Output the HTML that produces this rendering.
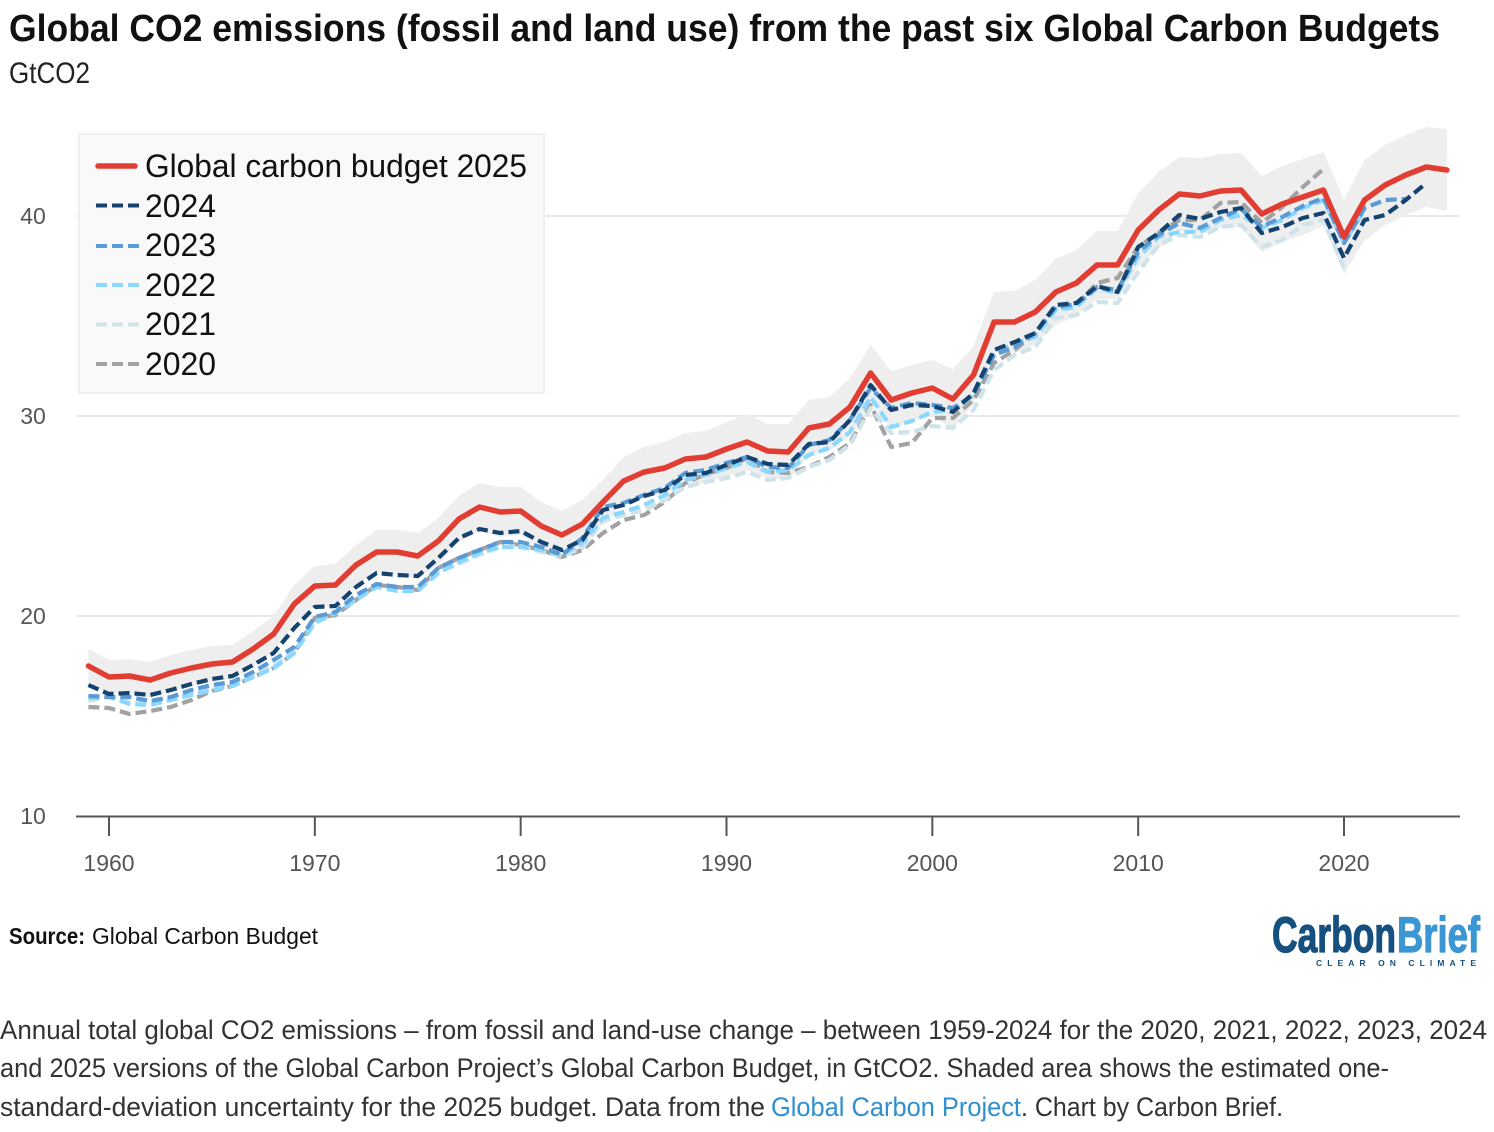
<!DOCTYPE html>
<html lang="en">
<head>
<meta charset="utf-8">
<title>Global CO2 emissions (fossil and land use) from the past six Global Carbon Budgets</title>
<style>
html,body{margin:0;padding:0;background:#fff;width:1494px;height:1132px;overflow:hidden}
svg{display:block}
text{font-family:"Liberation Sans",sans-serif}
</style>
</head>
<body>
<svg id="chart" width="1494" height="1132" viewBox="0 0 1494 1132" xmlns="http://www.w3.org/2000/svg">
  <text x="9" y="41" font-size="38" font-weight="700" fill="#111" textLength="1431" lengthAdjust="spacingAndGlyphs">Global CO2 emissions (fossil and land use) from the past six Global Carbon Budgets</text>
  <text x="9" y="83" font-size="30" fill="#222" textLength="81" lengthAdjust="spacingAndGlyphs">GtCO2</text>

  <g id="grid"></g>
  <g id="band"></g>
  <g id="series"></g>
  <g id="axes"></g>

  <g>
    <rect x="79" y="134" width="465" height="259" fill="#f9f9f9" stroke="#efefef" stroke-width="2"/>
    <g>
      <line x1="98" y1="166" x2="135" y2="166" stroke="#e23d32" stroke-width="5.5" stroke-linecap="round"/>
      <text x="145" y="177" font-size="32" fill="#111" textLength="382" lengthAdjust="spacingAndGlyphs">Global carbon budget 2025</text>
    </g>
    <g>
      <line x1="96" y1="205.500" x2="140" y2="205.500" stroke="#15436f" stroke-width="4" stroke-dasharray="11 5"/>
      <text x="145" y="217" font-size="32" fill="#111" textLength="71" lengthAdjust="spacingAndGlyphs">2024</text>
    </g>
    <g>
      <line x1="96" y1="246" x2="140" y2="246" stroke="#5b9bd5" stroke-width="4" stroke-dasharray="11 5"/>
      <text x="145" y="256" font-size="32" fill="#111" textLength="71" lengthAdjust="spacingAndGlyphs">2023</text>
    </g>
    <g>
      <line x1="96" y1="285" x2="140" y2="285" stroke="#8ad8ff" stroke-width="4" stroke-dasharray="11 5"/>
      <text x="145" y="296" font-size="32" fill="#111" textLength="71" lengthAdjust="spacingAndGlyphs">2022</text>
    </g>
    <g>
      <line x1="96" y1="324.500" x2="140" y2="324.500" stroke="#cfe3ea" stroke-width="4" stroke-dasharray="11 5"/>
      <text x="145" y="335" font-size="32" fill="#111" textLength="71" lengthAdjust="spacingAndGlyphs">2021</text>
    </g>
    <g>
      <line x1="96" y1="364" x2="140" y2="364" stroke="#a2a2a2" stroke-width="4" stroke-dasharray="11 5"/>
      <text x="145" y="375" font-size="32" fill="#111" textLength="71" lengthAdjust="spacingAndGlyphs">2020</text>
    </g>
  </g>

  <text y="944" font-size="23" fill="#111"><tspan x="9" font-weight="700" textLength="76" lengthAdjust="spacingAndGlyphs">Source:</tspan></text>
  <text x="92" y="944" font-size="23" fill="#111" textLength="226" lengthAdjust="spacingAndGlyphs">Global Carbon Budget</text>

  <g>
    <text x="1272" y="952" font-size="50" font-weight="700" fill="#15507f" stroke="#15507f" stroke-width="1.200" textLength="124" lengthAdjust="spacingAndGlyphs">Carbon</text>
    <text x="1397" y="952" font-size="50" font-weight="700" fill="#3b97d3" stroke="#3b97d3" stroke-width="1.200" textLength="83" lengthAdjust="spacingAndGlyphs">Brief</text>
    <text x="1316" y="966" font-size="8.500" font-weight="700" fill="#15507f" textLength="160">CLEAR ON CLIMATE</text>
  </g>

  <g font-size="27" fill="#333">
    <text x="0" y="1039" textLength="1487" lengthAdjust="spacingAndGlyphs">Annual total global CO2 emissions – from fossil and land-use change – between 1959-2024 for the 2020, 2021, 2022, 2023, 2024</text>
    <text x="0" y="1077" textLength="1389" lengthAdjust="spacingAndGlyphs">and 2025 versions of the Global Carbon Project’s Global Carbon Budget, in GtCO2. Shaded area shows the estimated one-</text>
    <text x="0" y="1116" textLength="765" lengthAdjust="spacingAndGlyphs">standard-deviation uncertainty for the 2025 budget. Data from the</text>
    <a href="#"><text x="771" y="1116" fill="#2f8fd0" textLength="250" lengthAdjust="spacingAndGlyphs">Global Carbon Project</text></a>
    <text x="1021" y="1116" textLength="262" lengthAdjust="spacingAndGlyphs">. Chart by Carbon Brief.</text>
  </g>
</svg>

<script>
const firstYear = 1959;
const yTicks = [10, 20, 30, 40];
const xTicks = [1960, 1970, 1980, 1990, 2000, 2010, 2020];

const budget2025 = [17.5,16.95,17,16.8,17.15,17.4,17.6,17.7,18.35,19.1,20.6,21.5,21.55,22.55,23.2,23.2,23,23.75,24.85,25.45,25.2,25.25,24.5,24.05,24.6,25.7,26.75,27.2,27.4,27.85,27.95,28.35,28.7,28.25,28.2,29.4,29.6,30.45,32.15,30.8,31.15,31.4,30.85,32.05,34.7,34.7,35.2,36.2,36.65,37.55,37.55,39.3,40.3,41.1,41,41.25,41.3,40.1,40.6,40.95,41.3,38.95,40.8,41.55,42.05,42.45,42.3];
const bandUpper = [18.35,17.8,17.85,17.7,18.05,18.3,18.5,18.55,19.25,20,21.55,22.5,22.6,23.55,24.3,24.3,24.15,24.9,26,26.65,26.45,26.45,25.7,25.25,25.8,26.8,27.95,28.45,28.7,29.15,29.25,29.7,30.1,29.6,29.6,30.8,30.95,31.9,33.55,32.25,32.55,32.8,32.35,33.5,36.2,36.25,36.8,37.85,38.3,39.25,39.25,41.15,42.2,42.95,42.9,43.1,43.15,42,42.5,42.85,43.2,40.8,42.8,43.55,44.05,44.45,44.35];
const bandLower = [16.65,16.1,16.15,15.9,16.25,16.5,16.7,16.85,17.45,18.2,19.65,20.5,20.5,21.55,22.1,22.1,21.85,22.6,23.7,24.25,23.95,24.05,23.3,22.85,23.4,24.6,25.55,25.95,26.1,26.55,26.65,27,27.3,26.9,26.8,28,28.25,29,30.75,29.35,29.75,30,29.35,30.6,33.2,33.15,33.6,34.55,35,35.85,35.85,37.45,38.4,39.25,39.1,39.4,39.45,38.2,38.7,39.05,39.5,37.1,38.8,39.55,40.05,40.45,40.25];
const budget2024 = [16.55,16.1,16.15,16.05,16.3,16.6,16.85,17,17.55,18.15,19.4,20.45,20.5,21.45,22.15,22.05,22,22.9,23.9,24.35,24.15,24.25,23.7,23.3,23.8,25.3,25.55,26,26.3,27.05,27.15,27.55,27.95,27.6,27.55,28.6,28.7,29.8,31.55,30.3,30.55,30.5,30.2,31.15,33.3,33.7,34.15,35.55,35.65,36.5,36.2,38.45,39.15,40.05,39.85,40.2,40.4,39.15,39.45,39.9,40.15,37.9,39.8,40.05,40.8,41.65];
const budget2023 = [16,15.95,15.95,15.75,15.95,16.3,16.55,16.7,17.2,17.8,18.45,19.95,20.2,21.05,21.6,21.45,21.45,22.4,22.9,23.3,23.7,23.7,23.45,23.05,23.9,25.45,25.65,26.05,26.4,27.15,27.3,27.65,27.95,27.45,27.4,28.55,28.8,29.8,31.4,30.4,30.65,30.55,30.4,31.05,33.05,33.45,34.15,35.45,35.6,36.45,36.3,38.2,39.05,39.65,39.4,39.9,40.35,39.45,39.95,40.5,40.9,38.65,40.4,40.8,40.85];
const budget2022 = [15.9,15.95,15.6,15.55,15.8,16.05,16.3,16.5,16.95,17.4,18.15,19.65,20.15,20.8,21.45,21.25,21.25,22.15,22.7,23.15,23.45,23.45,23.3,23.05,23.65,24.9,25.2,25.55,26.05,26.8,27.05,27.4,27.7,27.2,27.3,28.05,28.4,29.2,30.95,29.45,29.75,30.2,30.3,31.05,33.15,33.65,33.95,35.3,35.45,36.4,36.15,37.95,38.95,39.2,39.2,39.8,40.05,39.4,39.8,40.4,40.8,38.65,40.3];
const budget2021 = [15.75,15.95,15.7,15.7,15.9,16.15,16.4,16.6,17.05,17.5,18.25,19.75,20.2,20.9,21.55,21.4,21.35,22.2,22.6,23.05,23.45,23.5,23.2,23,23.4,24.75,25.05,25.3,25.8,26.45,26.7,26.9,27.2,26.8,26.9,27.45,27.8,28.55,30.4,29.15,29.2,29.5,29.4,30.3,32.3,33.05,33.45,34.9,35.05,35.7,35.65,37.2,38.55,39.05,38.95,39.45,39.55,38.45,38.8,39.55,39.8,37.4];
const budget2020 = [15.45,15.4,15.1,15.25,15.45,15.8,16.25,16.5,16.95,17.4,18.15,19.9,20.05,20.8,21.55,21.45,21.3,22.4,22.9,23.3,23.7,23.55,23.3,22.95,23.3,24.15,24.8,25.05,25.7,26.65,27.1,27.4,27.9,27.2,27.15,27.45,27.95,28.65,30.55,28.45,28.65,29.9,29.9,30.8,32.65,33.3,34.15,35.4,35.55,36.65,36.9,38.45,39.15,39.8,39.8,40.65,40.7,39.65,40.45,41.45,42.35];

const SVG_NS = 'http://www.w3.org/2000/svg';
function xScale(year) { return 109 + (year - 1960) * (1344 - 109) / 60; }
function yScale(v) { return 816 - (v - 10) * 20; }
function make(tag, attrs, parent) {
  const el = document.createElementNS(SVG_NS, tag);
  for (const k in attrs) el.setAttribute(k, attrs[k]);
  parent.appendChild(el);
  return el;
}
function toPoints(values) {
  return values.map(function (v, i) {
    return xScale(firstYear + i).toFixed(2) + ',' + yScale(v).toFixed(2);
  });
}

const grid = document.getElementById('grid');
const axes = document.getElementById('axes');
yTicks.forEach(function (t) {
  if (t !== 10) {
    const g = make('line', { x1: 76, x2: 1460, y1: yScale(t), y2: yScale(t), stroke: '#e9e9e9', 'stroke-width': 2 }, grid);
    
    
  }
  const lab = make('text', { x: 33, y: yScale(t) + 8, 'font-size': 23, fill: '#555', 'text-anchor': 'middle' }, axes);
  
  
  lab.textContent = String(t);
});
const baseline = make('line', { x1: 76, x2: 1460, y1: 816.5, y2: 816.5, stroke: '#555', 'stroke-width': 2 }, axes);


xTicks.forEach(function (t) {
  const tick = make('line', { x1: xScale(t), x2: xScale(t), y1: 816, y2: 836, stroke: '#555', 'stroke-width': 2 }, axes);
  
  
  const lab = make('text', { x: xScale(t), y: 871, 'font-size': 23, fill: '#555', 'text-anchor': 'middle' }, axes);
  
  
  lab.textContent = String(t);
});

const bandPts = toPoints(bandUpper).concat(toPoints(bandLower).reverse()).join(' ');
const bandEl = make('polygon', { points: bandPts, fill: '#eeeeee' }, document.getElementById('band'));



const seriesGroup = document.getElementById('series');
function drawDashed(values, color) {
  const el = make('polyline', { points: toPoints(values).join(' '), fill: 'none', stroke: color, 'stroke-width': 4.2, 'stroke-dasharray': '11 5', 'stroke-linejoin': 'round' }, seriesGroup);
  return el;
}
const line2020 = drawDashed(budget2020, '#a2a2a2');


const line2021 = drawDashed(budget2021, '#cfe3ea');


const line2022 = drawDashed(budget2022, '#8ad8ff');


const line2023 = drawDashed(budget2023, '#5b9bd5');


const line2024 = drawDashed(budget2024, '#15436f');


const line2025 = make('polyline', { points: toPoints(budget2025).join(' '), fill: 'none', stroke: '#e23d32', 'stroke-width': 5.5, 'stroke-linecap': 'round', 'stroke-linejoin': 'round' }, seriesGroup);


</script>
</body>
</html>
